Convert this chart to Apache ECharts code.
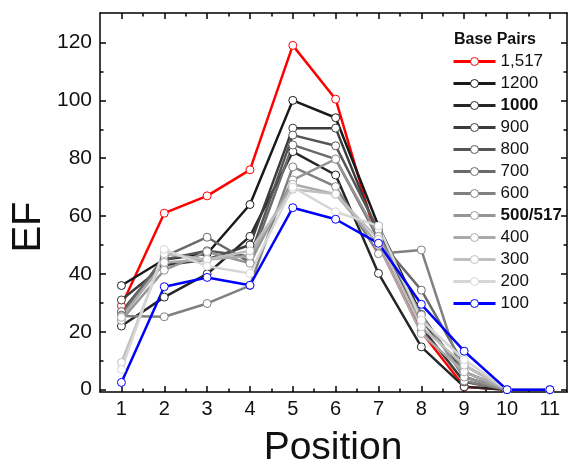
<!DOCTYPE html>
<html>
<head>
<meta charset="utf-8">
<script src="https://cdn.jsdelivr.net/npm/echarts@6/dist/echarts.min.js"></script>
<style>html,body{margin:0;padding:0;background:#fff}#c{width:572px;height:473px}</style>
</head>
<body>
<div id="c"></div>
<script>
var positions = [1, 2, 3, 4, 5, 6, 7, 8, 9, 10, 11];
var seriesNames = ['1,517', '1200', '1000', '900', '800', '700', '600', '500/517', '400', '300', '200', '100'];
var s1517 = [29, 61, 67, 76, 119, 100.4, 50, 20, 1, 0, 0];
var s1200 = [36, 45, 47, 64, 100, 94, 56.6, 26, 4.4, 0, 0];
var s1000 = [22, 32, 40, 53, 82.3, 74.2, 40.2, 14.8, 1, 0, 0];
var s900 = [31, 43, 45, 50, 90.4, 90.4, 53.5, 21.7, 2.7, 0, 0];
var s800 = [27, 45, 48, 46, 88, 84.3, 55, 24, 6.2, 0, 0];
var s700 = [25.8, 46, 52.7, 44, 84.6, 79.7, 52, 34.4, 8.5, 0, 0];
var s600 = [25.5, 25.2, 29.8, 36, 77, 70.2, 47, 48.3, 3, 0, 0];
var s500 = [24, 41.3, 47.7, 43.7, 72.5, 79.7, 53, 25.8, 4.4, 0, 0];
var s400 = [25, 44, 45, 46.2, 71, 67.6, 50, 19.4, 6.2, 0, 0];
var s300 = [9.4, 47, 45, 48, 69.3, 67.6, 52, 21.7, 8.5, 0, 0];
var s200 = [7, 48.5, 42.7, 40.2, 70, 61.5, 56.6, 24, 10.4, 0, 0];
var s100 = [2.5, 35.6, 38.8, 36.1, 62.9, 58.9, 50.6, 29.5, 13.3, 0, 0];
var allValues = [s1517, s1200, s1000, s900, s800, s700, s600, s500, s400, s300, s200, s100];
var colors = ['#ff0000', '#1a1a1a', '#262626', '#3c3c3c', '#555555', '#6a6a6a', '#808080', '#959595', '#aaaaaa', '#bfbfbf', '#d6d6d6', '#0000ff'];
var xMajor = [1, 2, 3, 4, 5, 6, 7, 8, 9, 10, 11];
var xMinor = [1.5, 2.5, 3.5, 4.5, 5.5, 6.5, 7.5, 8.5, 9.5, 10.5];
var yMajor = [0, 20, 40, 60, 80, 100, 120];
var yMinor = [10, 30, 50, 70, 90, 110];

var FONT = 'Liberation Sans, Arial, sans-serif';
var XMIN = 0.5, XMAX = 11.4, YMIN = -0.8, YMAX = 130.2;

function xAx(pos, ticks, len, showLine, showLabel) {
  return {
    type: 'value', position: pos, min: XMIN, max: XMAX,
    axisLine: { show: showLine, onZero: false, lineStyle: { color: '#000', width: 1.5 } },
    axisTick: { show: true, inside: true, length: len, customValues: ticks, lineStyle: { color: '#000', width: 1.5 } },
    axisLabel: { show: showLabel, customValues: ticks, margin: 7, fontSize: 20, fontFamily: FONT, color: '#111' },
    splitLine: { show: false }
  };
}
function yAx(pos, ticks, len, showLine, showLabel) {
  return {
    type: 'value', position: pos, min: YMIN, max: YMAX,
    axisLine: { show: showLine, onZero: false, lineStyle: { color: '#000', width: 1.5 } },
    axisTick: { show: true, inside: true, length: len, customValues: ticks, lineStyle: { color: '#000', width: 1.5 } },
    axisLabel: { show: showLabel, customValues: ticks, margin: 8, fontSize: 21, fontFamily: FONT, color: '#111' },
    splitLine: { show: false }
  };
}

var series = seriesNames.map(function (name, i) {
  return {
    name: name, type: 'line', xAxisIndex: 0, yAxisIndex: 0,
    data: positions.map(function (p, j) { return [p, allValues[i][j]]; }),
    symbol: 'circle', symbolSize: 8, showAllSymbol: true,
    lineStyle: { color: colors[i], width: 2.5 },
    itemStyle: { color: '#ffffff', borderColor: colors[i], borderWidth: 1 },
    emphasis: { disabled: true },
    animation: false
  };
});

var chart = echarts.init(document.getElementById('c'), null, { renderer: 'canvas' });
chart.setOption({
  animation: false,
  grid: { left: 100, right: 5, top: 13, bottom: 81, containLabel: false },
  xAxis: [
    xAx('bottom', xMajor, 6, true, true),
    xAx('bottom', xMinor, 3.5, false, false),
    xAx('top', xMajor, 6, true, false),
    xAx('top', xMinor, 3.5, false, false)
  ],
  yAxis: [
    yAx('left', yMajor, 6, true, true),
    yAx('left', yMinor, 3.5, false, false),
    yAx('right', yMajor, 6, true, false),
    yAx('right', yMinor, 3.5, false, false)
  ],
  legend: {
    left: 452, top: 53, orient: 'vertical', padding: 0,
    itemWidth: 42, itemHeight: 10, itemGap: 5,
    data: seriesNames.map(function (n, i) {
      return { name: n, itemStyle: { color: '#fff', borderColor: colors[i], borderWidth: 1 }, lineStyle: { color: colors[i], width: 3 } };
    }),
    formatter: function (n) {
      if (n === '1000' || n === '500/517') return '{b|' + n + '}';
      return '{r|' + n + '}';
    },
    textStyle: {
      fontSize: 17, fontFamily: FONT, color: '#111',
      rich: {
        r: { fontSize: 17, fontFamily: FONT, color: '#111', lineHeight: 19 },
        b: { fontSize: 17, fontFamily: FONT, color: '#111', fontWeight: 'bold', lineHeight: 19 }
      }
    }
  },
  graphic: [
    { type: 'text', left: 454, top: 32, style: { text: 'Base Pairs', font: 'bold 16px ' + FONT, fill: '#111' } },
    { type: 'text', x: 29, y: 227, rotation: Math.PI / 2, style: { text: 'EF', font: '40px ' + FONT, fill: '#111', align: 'center', verticalAlign: 'middle' } },
    { type: 'text', x: 333, y: 448, style: { text: 'Position', font: '39px ' + FONT, fill: '#111', align: 'center', verticalAlign: 'middle' } }
  ],
  series: series
});
</script>
</body>
</html>
